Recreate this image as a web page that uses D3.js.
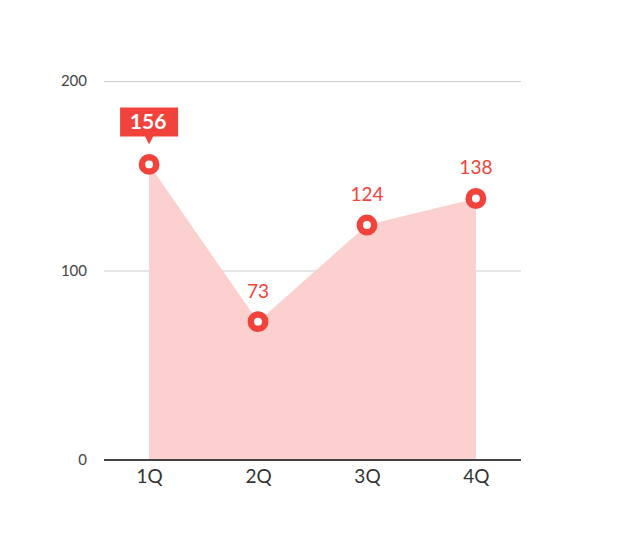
<!DOCTYPE html>
<meta charset="utf-8">
<html>
<head>
    <script src="https://d3js.org/d3.v7.min.js"></script>
</head>
<style>
    body { margin: 0; background: white; }
    text { font-family: Lato, "Open Sans", sans-serif; }
</style>
<body>
<div id="chartdiv"></div>
<script>

// chart data
var quarters = ["1Q", "2Q", "3Q", "4Q"];
var values = [156, 73, 124, 138];
var yTicks = [0, 100, 200];
var highlightIdx = 0;

// sizes and colours
const width = 625;
const height = 542;
const plotLeft = 104;
const plotRight = 521;
const plotTop = 81;
const plotBottom = 460;
const colorRed = "#f1433b";
const colorArea = "#fbd0cf";

const svg = d3.select("#chartdiv")
    .append("svg")
    .attr("width", width)
    .attr("height", height);

var x = d3.scalePoint()
    .domain(quarters)
    .range([plotLeft, plotRight])
    .padding(0.414);

var y = d3.scaleLinear()
    .domain([0, 200])
    .range([plotBottom, plotTop]);

// gridlines
svg.append("g")
    .selectAll("line")
    .data(yTicks.filter(d => d > 0))
    .enter()
    .append("line")
    .attr("x1", plotLeft)
    .attr("x2", plotRight)
    .attr("y1", d => y(d) + 0.5)
    .attr("y2", d => y(d) + 0.5)
    .attr("stroke", "#cccccc")
    .attr("stroke-width", 1);

// y labels
svg.append("g")
    .selectAll("text")
    .data(yTicks)
    .enter()
    .append("text")
    .attr("x", 87)
    .attr("y", d => y(d))
    .attr("dy", "0.35em")
    .attr("text-anchor", "end")
    .style("font-size", "15px")
    .attr("fill", "#444")
    .text(d => d);

// area
var pts = quarters.map((q, i) => ({ q: q, v: values[i] }));
var area = d3.area()
    .x(d => x(d.q))
    .y0(y(0))
    .y1(d => y(d.v));

svg.append("path")
    .datum(pts)
    .attr("d", area)
    .attr("fill", colorArea);

// x axis
var axisX = svg.append("g")
    .attr("transform", "translate(0," + plotBottom + ")")
    .call(d3.axisBottom(x).tickSize(0).tickPadding(10));
axisX.select(".domain").remove();
axisX.append("line")
    .attr("x1", plotLeft)
    .attr("x2", plotRight)
    .attr("stroke", "#444")
    .attr("stroke-width", 2);
axisX.selectAll("text")
    .style("font-family", "Lato, sans-serif")
    .style("font-size", "19px")
    .attr("fill", "#333");

// markers
svg.append("g")
    .selectAll("circle")
    .data(pts)
    .enter()
    .append("circle")
    .attr("cx", d => x(d.q))
    .attr("cy", d => y(d.v))
    .attr("r", 7.2)
    .attr("fill", "white")
    .attr("stroke", colorRed)
    .attr("stroke-width", 6.5);

// value labels (non-highlighted)
svg.append("g")
    .selectAll("text")
    .data(pts.filter((d, i) => i !== highlightIdx))
    .enter()
    .append("text")
    .attr("x", d => x(d.q))
    .attr("y", d => y(d.v) - 24)
    .attr("text-anchor", "middle")
    .style("font-size", "19px")
    .attr("fill", colorRed)
    .text(d => d.v);

// highlighted callout
var hp = pts[highlightIdx];
var hx = x(hp.q);
var hy = y(hp.v);
var callout = svg.append("g");
callout.append("path")
    .attr("d", "M" + (hx - 29) + "," + (hy - 57) +
        " h58 v29 h-25 l-4,8 l-4,-8 h-25 z")
    .attr("fill", colorRed);
callout.append("text")
    .attr("x", hx - 1)
    .attr("y", hy - 35)
    .attr("text-anchor", "middle")
    .style("font-size", "21px")
    .style("font-weight", "700")
    .attr("fill", "white")
    .text(hp.v);

</script>
</body>
</html>
